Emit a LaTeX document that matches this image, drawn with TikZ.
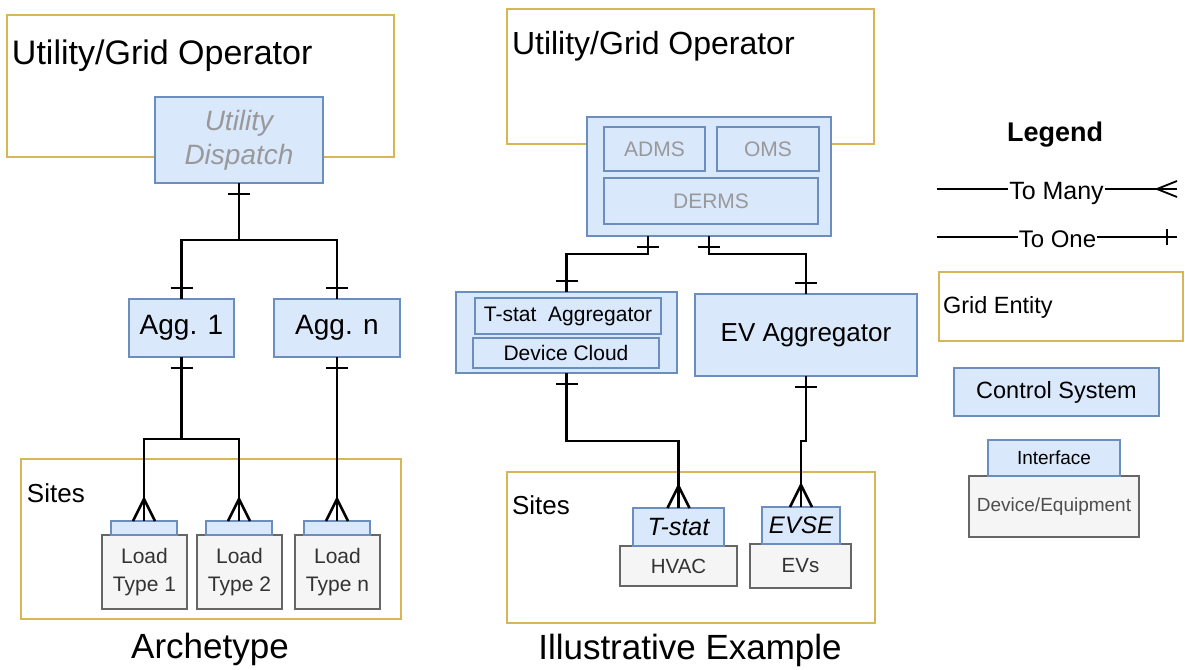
\documentclass[tikz,border=0pt]{standalone}
\usepackage{fontspec}
\setmainfont{Liberation Sans}
\usetikzlibrary{calc}
\definecolor{gold}{HTML}{D6B656}
\definecolor{cfill}{HTML}{DAE8FC}
\definecolor{cline}{HTML}{6C8EBF}
\definecolor{dfill}{HTML}{F5F5F5}
\definecolor{dline}{HTML}{666666}
\definecolor{gtext}{HTML}{999999}
\definecolor{dtext}{HTML}{333333}
\definecolor{etext}{HTML}{4D4D4D}
\newcommand\mybox[7]{\node[#1, minimum width={(#5-#3)*1pt}, minimum height={(#6-#4)*1pt}] (#2) at ({(#3+#5)/2},{(#4+#6)/2}) {#7};}
\newcommand\tickbelow[1]{\draw[conn] ($(#1.south)+(-11,11)$) -- ++(22,0);}
\newcommand\tickabove[1]{\draw[conn] ($(#1.north)+(-11,-11)$) -- ++(22,0);}
\newcommand\crowfoot[1]{\draw[conn] ($(#1.north)+(-11,0)$) -- ($(#1.north)+(0,-22)$) -- ($(#1.north)+(11,0)$);}
\begin{document}
\begin{tikzpicture}[x=1pt,y=-1pt,
  every node/.style={inner sep=0pt, outer sep=0pt},
  grid/.style={draw=gold, line width=2.2pt, fill=white},
  ctrl/.style={draw=cline, line width=2.2pt, fill=cfill, align=center},
  dev/.style={draw=dline, line width=2.8pt, fill=dfill, align=center, text=dtext},
  conn/.style={line width=2.6pt, black}]
\useasboundingbox (0,0) rectangle (1185,669);

% ---------- Archetype ----------
\mybox{grid}{lgrid}{7}{15}{394}{157}{}
\node[anchor=base west, font=\fontsize{34}{40}\selectfont] (lgridt) at (12,64) {Utility/Grid Operator};
\mybox{ctrl, text=gtext, font=\itshape\fontsize{28}{34}\selectfont}{disp}{155}{97}{323}{183}{Utility\\Dispatch}
\mybox{ctrl, font=\fontsize{28}{34}\selectfont}{agg1}{129}{299}{234}{357}{Agg. 1}
\mybox{ctrl, font=\fontsize{28}{34}\selectfont}{aggn}{274}{299}{400}{357}{Agg. n}
\mybox{grid}{lsites}{21}{459}{401}{619}{}
\node[anchor=base west, font=\fontsize{26}{31}\selectfont] (lsitest) at (27,502) {Sites};
\mybox{dev, font=\fontsize{21}{28}\selectfont}{load1}{102}{535}{187}{609}{Load\\Type 1}
\mybox{dev, font=\fontsize{21}{28}\selectfont}{load2}{197}{535}{282}{609}{Load\\Type 2}
\mybox{dev, font=\fontsize{21}{28}\selectfont}{loadn}{295}{535}{380}{609}{Load\\Type n}
\mybox{ctrl}{if1}{111}{521}{177}{535}{}
\mybox{ctrl}{if2}{206}{521}{272}{535}{}
\mybox{ctrl}{ifn}{304}{521}{370}{535}{}
\node[anchor=base, font=\fontsize{35}{42}\selectfont] (arch) at (210,658) {Archetype};

\draw[conn] (disp.south) -- ++(0,57) -| (agg1.north);
\draw[conn] (disp.south) -- ++(0,57) -| (aggn.north);
\draw[conn] (agg1.south) -- ++(0,82) -| (if1.north);
\draw[conn] (agg1.south) -- ++(0,82) -| (if2.north);
\draw[conn] (aggn.south) -- (ifn.north);
\tickbelow{disp}
\tickabove{agg1}
\tickabove{aggn}
\tickbelow{agg1}
\tickbelow{aggn}
\crowfoot{if1}
\crowfoot{if2}
\crowfoot{ifn}

% ---------- Illustrative Example ----------
\mybox{grid}{rgrid}{507}{9}{874}{144}{}
\node[anchor=base west, font=\fontsize{32}{38}\selectfont] (rgridt) at (512,55) {Utility/Grid Operator};
\mybox{ctrl}{cs}{587}{117}{831}{236}{}
\mybox{ctrl, text=gtext, font=\fontsize{21}{25}\selectfont}{adms}{604}{127}{705}{171}{ADMS}
\mybox{ctrl, text=gtext, font=\fontsize{21}{25}\selectfont}{oms}{717}{127}{819}{171}{OMS}
\mybox{ctrl, text=gtext, font=\fontsize{21}{25}\selectfont}{derms}{604}{178}{818}{224}{DERMS}
\mybox{ctrl}{tgroup}{456}{292}{677}{373}{}
\mybox{ctrl, font=\fontsize{21}{25}\selectfont}{tagg}{475}{298}{661}{334}{T-stat\ \ Aggregator}
\mybox{ctrl, font=\fontsize{21}{25}\selectfont}{dcloud}{473}{338}{659}{368}{Device Cloud}
\mybox{ctrl, font=\fontsize{26}{31}\selectfont}{evagg}{695}{294}{917}{376}{EV Aggregator}
\mybox{grid}{rsites}{507}{472}{875}{623}{}
\node[anchor=base west, font=\fontsize{26}{31}\selectfont] (rsitest) at (512,514) {Sites};
\mybox{dev, font=\fontsize{20.5}{25}\selectfont}{hvac}{620}{546}{737}{586}{HVAC}
\mybox{ctrl, font=\itshape\fontsize{25}{30}\selectfont}{tstat}{633}{508}{724}{546}{T-stat}
\mybox{dev, font=\fontsize{20.5}{25}\selectfont}{evs}{750}{544}{851}{588}{EVs}
\mybox{ctrl, font=\itshape\fontsize{24}{29}\selectfont}{evse}{762}{507}{840}{544}{EVSE}
\node[anchor=base, font=\fontsize{35}{42}\selectfont] (illus) at (690,659) {Illustrative Example};

\draw[conn] ($(cs.south)+(-61,0)$) coordinate (csl) -- ++(0,18) -| (tgroup.north);
\draw[conn] (cs.south) -- ++(0,18) -| (evagg.north);
\draw[conn] (tgroup.south) -- ++(0,68) -| (tstat.north);
\draw[conn] (evagg.south) -- ++(0,65) -| (evse.north);
\draw[conn] ($(csl)+(-11,11)$) -- ++(22,0);
\tickbelow{cs}
\tickabove{tgroup}
\tickabove{evagg}
\tickbelow{tgroup}
\tickbelow{evagg}
\crowfoot{tstat}
\crowfoot{evse}

% ---------- Legend ----------
\node[anchor=base, font=\bfseries\fontsize{27}{32}\selectfont] (leg) at (1055,141) {Legend};
\coordinate (m1) at (937,189);
\coordinate (m2) at (1177,189);
\node[anchor=base, inner sep=1pt, font=\fontsize{25}{30}\selectfont] (tm) at (1056.5,199) {To Many};
\draw[line width=1.8pt] (m1) -- (m1 -| tm.west);
\draw[line width=1.8pt] (m2 -| tm.east) -- (m2);
\draw[line width=1.8pt] (1177,181) -- (1157,189) -- (1177,197);
\coordinate (o1) at (937,237);
\coordinate (o2) at (1177,237);
\node[anchor=base, inner sep=1pt, font=\fontsize{24}{29}\selectfont] (to) at (1057.5,247) {To One};
\draw[line width=1.8pt] (o1) -- (o1 -| to.west);
\draw[line width=1.8pt] (o2 -| to.east) -- (o2);
\draw[line width=1.8pt] (1167,229) -- (1167,245);
\mybox{grid}{lgrident}{939}{272}{1183}{341}{}
\node[anchor=base west, font=\fontsize{23.5}{28}\selectfont] (gent) at (943,313) {Grid Entity};
\mybox{ctrl, font=\fontsize{23.5}{28}\selectfont}{lctrl}{954}{368}{1159}{416}{Control System}
\mybox{dev, text=etext, font=\fontsize{19}{23}\selectfont}{ldev}{969}{476}{1139}{537}{Device/Equipment}
\mybox{ctrl, font=\fontsize{19}{23}\selectfont}{lif}{988}{440}{1120}{476}{Interface}
\end{tikzpicture}
\end{document}
